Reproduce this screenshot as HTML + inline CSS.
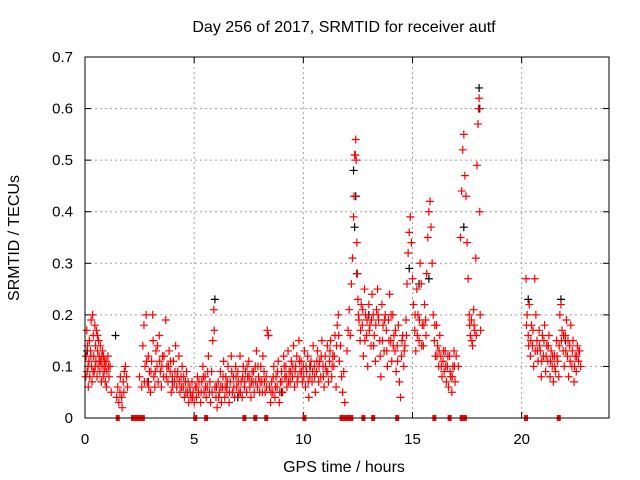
<!DOCTYPE html>
<html><head><meta charset="utf-8"><style>
body{margin:0;background:#fff;}
svg{display:block;font-family:"Liberation Sans",sans-serif;}
</style></head><body>
<svg id="chart" width="640" height="480" xmlns="http://www.w3.org/2000/svg">
<rect width="640" height="480" fill="#fff"/>
<text x="344" y="32" text-anchor="middle" font-size="16">Day 256 of 2017, SRMTID for receiver autf</text>
<text x="344" y="472" text-anchor="middle" font-size="16">GPS time / hours</text>
<text transform="translate(19,238) rotate(-90)" text-anchor="middle" font-size="16">SRMTID / TECUs</text>
<g id="grid"></g>
<g id="axes"></g>
<g id="black"></g>
<g id="red"></g>
<g id="zeros"></g>
<rect x="85" y="57" width="524" height="361" fill="none" stroke="#000" stroke-width="1"/>
</svg>
<script>
const xTicks = [0,5,10,15,20];
const yTicks = [0,0.1,0.2,0.3,0.4,0.5,0.6,0.7];
const yTickLabels = ["0","0.1","0.2","0.3","0.4","0.5","0.6","0.7"];
const redPts = [[0.05,0.12],[0.08,0.17],[0.1,0.09],[0.12,0.14],[0.15,0.06],[0.18,0.11],[0.2,0.15],[0.22,0.08],[0.25,0.13],[0.28,0.19],[0.3,0.1],[0.32,0.07],[0.35,0.2],[0.38,0.16],[0.4,0.12],[0.42,0.09],[0.45,0.18],[0.48,0.14],[0.5,0.11],[0.52,0.17],[0.55,0.08],[0.58,0.13],[0.6,0.1],[0.62,0.15],[0.65,0.12],[0.68,0.09],[0.7,0.14],[0.72,0.11],[0.75,0.07],[0.78,0.1],[0.8,0.13],[0.83,0.08],[0.85,0.12],[0.88,0.09],[0.9,0.11],[0.93,0.07],[0.95,0.1],[0.98,0.06],[1.0,0.09],[1.05,0.12],[1.1,0.08],[1.15,0.1],[1.2,0.05],
[1.45,0.04],[1.5,0.06],[1.55,0.03],[1.6,0.05],[1.7,0.02],[1.75,0.07],[1.8,0.09],[1.85,0.1],[1.9,0.08],[1.95,0.06],
[2.5,0.08],[2.6,0.06],[2.65,0.14],[2.7,0.18],[2.75,0.1],[2.8,0.2],[2.85,0.07],[2.9,0.12],[2.95,0.09],[3.0,0.05],[3.05,0.11],[3.1,0.2],[3.15,0.08],[3.2,0.06],[3.25,0.13],[3.3,0.1],[3.35,0.07],[3.4,0.16],[3.45,0.09],[3.5,0.06],[3.55,0.12],[3.6,0.08],[3.7,0.19],[3.75,0.1],[3.8,0.07],[3.85,0.13],[3.9,0.09],[3.95,0.05],[4.0,0.08],[4.05,0.11],[4.1,0.07],[4.15,0.14],[4.2,0.06],[4.25,0.09],[4.3,0.12],[4.35,0.05],[4.4,0.08],[4.45,0.1],[4.5,0.06],[4.55,0.04],[4.6,0.07],[4.65,0.09],[4.7,0.05],[4.75,0.03],[4.8,0.06],[4.85,0.04],[4.9,0.07],[4.95,0.05],[5.0,0.03],
[5.05,0.06],[5.1,0.04],[5.15,0.08],[5.2,0.05],[5.3,0.03],[5.35,0.07],[5.4,0.1],[5.45,0.05],[5.5,0.08],[5.55,0.04],[5.6,0.06],[5.65,0.12],[5.7,0.05],[5.75,0.03],[5.8,0.09],[5.85,0.15],[5.9,0.21],[5.92,0.17],[5.95,0.06],[6.0,0.04],[6.05,0.02],[6.1,0.07],[6.15,0.05],[6.2,0.09],[6.25,0.03],[6.3,0.06],[6.35,0.11],[6.4,0.04],[6.45,0.08],[6.5,0.05],[6.55,0.1],[6.6,0.03],[6.65,0.07],[6.7,0.12],[6.75,0.05],[6.8,0.08],[6.85,0.04],[6.9,0.1],[6.95,0.06],[7.0,0.09],[7.05,0.05],[7.1,0.12],[7.15,0.07],[7.2,0.04],[7.25,0.1],[7.3,0.06],[7.35,0.09],[7.4,0.05],[7.45,0.08],[7.5,0.11],[7.55,0.06],[7.6,0.04],[7.65,0.09],[7.7,0.07],[7.75,0.05],[7.8,0.1],[7.85,0.13],[7.9,0.06],[7.95,0.08],[8.0,0.05],[8.05,0.1],[8.1,0.07],[8.15,0.12],[8.2,0.09],[8.25,0.05],[8.3,0.08],[8.35,0.17],[8.4,0.16],[8.45,0.06],[8.5,0.03],[8.55,0.07],[8.6,0.05],[8.65,0.1],[8.7,0.04],[8.75,0.08],[8.8,0.06],[8.85,0.11],[8.9,0.03],[8.95,0.07],[9.0,0.09],[9.05,0.05],[9.1,0.12],[9.15,0.08],[9.2,0.1],[9.25,0.06],[9.3,0.13],[9.35,0.09],[9.4,0.07],[9.45,0.11],[9.5,0.08],[9.55,0.14],[9.6,0.06],[9.65,0.1],[9.7,0.12],[9.75,0.08],[9.8,0.15],[9.85,0.09],[9.9,0.11],[9.95,0.07],[10.0,0.1],
[10.05,0.13],[10.1,0.06],[10.15,0.09],[10.2,0.12],[10.25,0.04],[10.3,0.08],[10.35,0.11],[10.4,0.07],[10.45,0.14],[10.5,0.1],[10.55,0.05],[10.6,0.09],[10.65,0.13],[10.7,0.07],[10.75,0.11],[10.8,0.08],[10.85,0.15],[10.9,0.1],[10.95,0.06],[11.0,0.12],[11.05,0.09],[11.1,0.14],[11.15,0.07],[11.2,0.11],[11.25,0.15],[11.3,0.08],[11.35,0.12],[11.4,0.1],[11.45,0.16],[11.5,0.06],[11.55,0.18],[11.6,0.2],[11.65,0.11],[11.7,0.14],[11.75,0.08],[11.8,0.05],[11.85,0.09],[11.9,0.03],[12.0,0.13],[12.05,0.17],[12.1,0.21],[12.15,0.16],[12.2,0.26],[12.25,0.31],[12.3,0.39],[12.32,0.43],[12.35,0.51],[12.38,0.51],[12.4,0.54],[12.42,0.5],[12.45,0.34],[12.48,0.28],[12.5,0.23],[12.55,0.19],[12.6,0.15],[12.65,0.22],[12.7,0.18],[12.75,0.12],[12.8,0.25],[12.85,0.2],[12.9,0.16],[12.95,0.1],[13.0,0.22],[13.05,0.18],[13.1,0.14],[13.15,0.24],[13.2,0.2],[13.25,0.16],[13.3,0.11],[13.35,0.21],[13.4,0.25],[13.45,0.19],[13.5,0.15],[13.55,0.08],[13.6,0.22],[13.65,0.18],[13.7,0.13],[13.75,0.2],[13.8,0.17],[13.85,0.1],[13.9,0.19],[13.95,0.24],[14.0,0.15],[14.05,0.11],[14.1,0.2],[14.15,0.16],[14.2,0.13],[14.25,0.09],[14.3,0.14],[14.35,0.18],[14.4,0.07],[14.45,0.04],[14.5,0.12],[14.55,0.16],[14.6,0.1],[14.65,0.14],[14.7,0.19],[14.75,0.26],[14.8,0.32],[14.85,0.36],[14.9,0.39],[14.95,0.34],[15.0,0.27],[15.05,0.22],[15.1,0.17],[15.15,0.13],[15.2,0.25],[15.25,0.2],[15.3,0.15],[15.35,0.3],[15.4,0.26],[15.45,0.18],[15.5,0.14],[15.55,0.22],[15.6,0.19],[15.65,0.28],[15.7,0.35],[15.75,0.4],[15.8,0.42],[15.85,0.37],[15.9,0.3],[15.95,0.2],[16.0,0.15],[16.05,0.12],[16.1,0.18],[16.15,0.14],[16.2,0.1],[16.25,0.16],[16.3,0.12],[16.35,0.08],[16.4,0.11],[16.45,0.09],[16.5,0.13],[16.55,0.07],[16.6,0.1],[16.65,0.06],[16.7,0.12],[16.75,0.08],[16.8,0.05],[16.85,0.1],[16.9,0.13],[16.95,0.07],[17.0,0.12],[17.1,0.1],[17.2,0.35],[17.25,0.44],[17.3,0.52],[17.35,0.55],[17.4,0.47],[17.45,0.43],[17.5,0.34],[17.55,0.27],[17.6,0.2],[17.65,0.16],[17.7,0.19],[17.75,0.14],[17.8,0.21],[17.85,0.17],[17.9,0.31],[17.95,0.49],[18.0,0.57],[18.02,0.6],[18.05,0.62],[18.08,0.4],[18.1,0.2],
[20.2,0.27],[20.25,0.2],[20.3,0.16],[20.35,0.22],[20.4,0.12],[20.45,0.18],[20.5,0.14],[20.55,0.1],[20.6,0.27],[20.65,0.2],[20.7,0.15],[20.75,0.11],[20.8,0.17],[20.85,0.13],[20.9,0.08],[20.95,0.16],[21.0,0.12],[21.05,0.18],[21.1,0.09],[21.15,0.14],[21.2,0.11],[21.25,0.16],[21.3,0.08],[21.35,0.13],[21.4,0.1],[21.45,0.07],[21.5,0.12],[21.55,0.09],[21.6,0.15],[21.65,0.11],[21.7,0.08],[21.75,0.2],[21.8,0.22],[21.85,0.17],[21.9,0.13],[21.95,0.1],[22.0,0.16],[22.05,0.19],[22.1,0.12],[22.15,0.08],[22.2,0.14],[22.25,0.18],[22.3,0.1],[22.35,0.15],[22.4,0.07],[22.45,0.12],[22.5,0.09],[22.55,0.14],[22.6,0.11],[22.65,0.13],[22.7,0.1]];
const redPtsExtra = [[0.03,0.08],[0.14,0.1],[0.27,0.12],[0.37,0.09],[0.47,0.1],[0.57,0.16],[0.67,0.11],[0.77,0.12],[0.87,0.1],[0.97,0.11],[1.08,0.1],[1.62,0.08],[1.68,0.04],[1.78,0.05],
[2.72,0.07],[2.82,0.11],[2.92,0.06],[3.02,0.09],[3.12,0.15],[3.22,0.09],[3.32,0.14],[3.42,0.11],[3.52,0.1],[3.62,0.12],[3.72,0.08],[3.82,0.1],[3.92,0.11],[4.02,0.06],[4.12,0.09],[4.22,0.08],[4.32,0.07],[4.42,0.06],[4.52,0.08],[4.62,0.05],[4.72,0.07],[4.82,0.05],[4.92,0.04],
[5.12,0.06],[5.22,0.07],[5.32,0.05],[5.42,0.08],[5.52,0.06],[5.62,0.09],[5.72,0.07],[5.82,0.05],[6.02,0.06],[6.12,0.04],[6.22,0.06],[6.32,0.08],[6.42,0.06],[6.52,0.07],[6.62,0.05],[6.72,0.09],[6.82,0.06],[6.92,0.08],[7.02,0.07],[7.12,0.05],[7.22,0.08],[7.32,0.07],[7.42,0.1],[7.52,0.08],[7.62,0.07],[7.72,0.09],[7.82,0.07],[7.92,0.1],[8.02,0.07],[8.12,0.05],[8.22,0.07],[8.32,0.06],[8.52,0.05],[8.62,0.08],[8.72,0.06],[8.82,0.09],[8.92,0.05],[9.02,0.07],[9.12,0.1],[9.22,0.08],[9.32,0.07],[9.42,0.09],[9.52,0.1],[9.62,0.09],[9.72,0.07],[9.82,0.11],[9.92,0.09],
[10.02,0.08],[10.12,0.1],[10.22,0.07],[10.32,0.1],[10.42,0.09],[10.52,0.08],[10.62,0.11],[10.72,0.1],[10.82,0.12],[10.92,0.08],[11.02,0.1],[11.12,0.09],[11.22,0.13],[11.32,0.1],[11.42,0.12],[11.52,0.14],[11.62,0.16],[12.52,0.2],[12.62,0.17],[12.72,0.21],[12.82,0.15],[12.92,0.19],[13.02,0.17],[13.12,0.19],[13.22,0.14],[13.32,0.18],[13.42,0.2],[13.52,0.12],[13.62,0.15],[13.72,0.19],[13.82,0.13],[13.92,0.15],[14.02,0.2],[14.12,0.14],[14.22,0.17],[14.32,0.11],[14.52,0.15],[14.62,0.13],[14.72,0.16],[15.12,0.2],[15.22,0.16],[15.32,0.19],[15.42,0.14],[15.52,0.18],[15.62,0.16],[16.02,0.18],[16.12,0.12],[16.22,0.13],[16.32,0.1],[16.42,0.13],[16.52,0.1],[16.62,0.12],[16.72,0.09],[16.82,0.08],[16.92,0.1],[17.62,0.18],[17.72,0.15],[17.82,0.18],[17.92,0.16],[18.12,0.17],
[20.22,0.18],[20.32,0.14],[20.42,0.15],[20.52,0.17],[20.62,0.13],[20.72,0.13],[20.82,0.14],[20.92,0.11],[21.02,0.15],[21.12,0.12],[21.22,0.14],[21.32,0.11],[21.42,0.12],[21.52,0.1],[21.62,0.12],[21.72,0.14],[21.82,0.15],[21.92,0.16],[22.02,0.13],[22.12,0.15],[22.22,0.11],[22.32,0.13],[22.42,0.1],[22.52,0.12],[22.62,0.13]];
const blackPts = [[0.1,0.13],[1.4,0.16],[2.9,0.07],[4.0,0.07],[5.95,0.23],[6.5,0.06],[7.0,0.04],[8.4,0.16],[9.0,0.05],[10.3,0.1],[12.3,0.48],[12.4,0.43],[12.35,0.37],[12.45,0.28],[13.0,0.2],[14.85,0.29],[15.3,0.26],[15.75,0.27],[17.35,0.37],[18.05,0.64],[18.08,0.6],[20.3,0.23],[21.8,0.23],[22.0,0.15]];
const zeroTimes = [1.5,2.2,2.35,2.5,2.65,5.05,5.55,7.3,7.8,8.3,10.05,11.75,11.9,12.05,12.2,12.75,13.2,14.3,16.0,16.7,17.25,17.4,20.2,21.7];

const X0=85,X1=609,Y0=418,Y1=57,XMAX=24,YMAX=0.7;
const sx=v=>X0+(X1-X0)*v/XMAX;
const sy=v=>Y0-(Y0-Y1)*v/YMAX;
const NS="http://www.w3.org/2000/svg";
function mk(tag,parent,attrs){const e=document.createElementNS(NS,tag);for(const k in attrs)e.setAttribute(k,attrs[k]);parent.appendChild(e);return e;}
const grid=document.getElementById('grid'),axes=document.getElementById('axes');
xTicks.forEach(t=>{
  const x=sx(t);
  if(t>0){const g=mk('line',grid,{x1:x,x2:x,y1:Y1,y2:Y0,stroke:'#a0a0a0','stroke-dasharray':'2,3'});
  
  }
  mk('line',axes,{x1:x,x2:x,y1:Y0,y2:Y0-6,stroke:'#000'});
  mk('line',axes,{x1:x,x2:x,y1:Y1,y2:Y1+6,stroke:'#000'});
  const l=mk('text',axes,{x:x,y:444,'text-anchor':'middle','font-size':'15'});
  l.textContent=String(t);
  
  
});
yTicks.forEach((t,i)=>{
  const y=sy(t);
  if(i>0&&i<yTicks.length-1){const g=mk('line',grid,{x1:X0,x2:X1,y1:y,y2:y,stroke:'#a0a0a0','stroke-dasharray':'2,3'});
  
  }
  mk('line',axes,{x1:X0,x2:X0+6,y1:y,y2:y,stroke:'#000'});
  mk('line',axes,{x1:X1,x2:X1-6,y1:y,y2:y,stroke:'#000'});
  const l=mk('text',axes,{x:73,y:y+5,'text-anchor':'end','font-size':'15'});
  l.textContent=yTickLabels[i];
  
  
});
function plus(parent,t,v,col){
  const x=sx(t),y=sy(v);
  const p=mk('path',parent,{d:`M${x-4},${y}H${x+4}M${x},${y-4}V${y+4}`,stroke:col,'stroke-width':'1.2',fill:'none'});
  
  
}
const bg=document.getElementById('black'),rg=document.getElementById('red'),zg=document.getElementById('zeros');
blackPts.forEach(p=>plus(bg,p[0],p[1],'#000'));
redPts.forEach(p=>plus(rg,p[0],p[1],'#ff0000'));
redPtsExtra.forEach(p=>plus(rg,p[0],p[1],'#ff0000'));
zeroTimes.forEach(t=>{
  const r=mk('rect',zg,{x:sx(t)-2,y:Y0-3,width:4,height:6,fill:'#ff0000'});
  
  
});
</script>
</body></html>
